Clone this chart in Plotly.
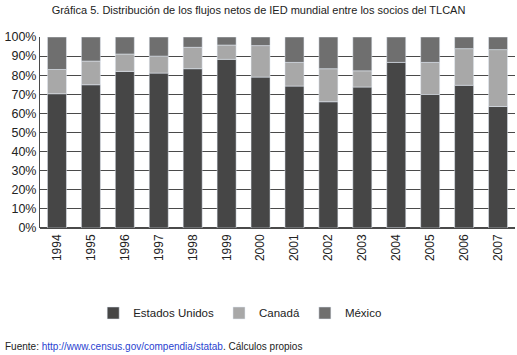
import plotly.graph_objects as go

years = ["1994", "1995", "1996", "1997", "1998", "1999", "2000",
         "2001", "2002", "2003", "2004", "2005", "2006", "2007"]
estados_unidos = [70.3, 75.0, 82.0, 81.1, 83.4, 88.3, 79.0, 74.3, 66.1, 73.8, 86.7, 69.9, 74.7, 63.6]
canada = [12.7, 12.4, 9.1, 8.9, 11.2, 7.5, 16.5, 12.4, 17.3, 8.5, -1.0, 16.8, 19.2, 29.8]
mexico = [17.0, 12.6, 8.9, 10.0, 5.4, 4.2, 4.5, 13.3, 16.6, 17.7, 13.3, 13.3, 6.1, 6.6]
y_ticks = [0, 10, 20, 30, 40, 50, 60, 70, 80, 90, 100]
y_tick_labels = ["0%", "10%", "20%", "30%", "40%", "50%", "60%", "70%", "80%", "90%", "100%"]

FONT = "Liberation Sans, Arial, sans-serif"

fig = go.Figure()
fig.add_trace(go.Bar(x=years, y=estados_unidos, name="Estados Unidos", marker_color="#464646"))
fig.add_trace(go.Bar(x=years, y=canada, name="Canadá", marker_color="#a8a8a8"))
fig.add_trace(go.Bar(x=years, y=mexico, name="México", marker_color="#6f6f6f"))

fig.update_layout(
    width=517, height=355,
    barmode="relative", bargap=0.44,
    plot_bgcolor="white", paper_bgcolor="white",
    margin=dict(l=40, r=2, t=37, b=127),
    font=dict(family=FONT, size=12, color="#222"),
    title=dict(text="Gráfica 5. Distribución de los flujos netos de IED mundial entre los socios del TLCAN",
               x=0.5, xanchor="center", y=0.972, yanchor="middle",
               font=dict(family=FONT, size=11, color="#222")),
    legend=dict(orientation="h", x=0.112, xanchor="left", y=-0.445, yanchor="middle",
                font=dict(family=FONT, size=11.5), itemwidth=30, traceorder="normal"),
    showlegend=True,
)
fig.update_xaxes(type="category", tickangle=-90, tickfont=dict(family=FONT, size=12),
                 showline=False, ticks="", showgrid=False, automargin=False,
                 ticklabelstandoff=3)
fig.update_yaxes(range=[0, 100], tickvals=y_ticks, ticktext=y_tick_labels,
                 showgrid=True, gridcolor="#4a4a4a", gridwidth=1, zeroline=True,
                 zerolinecolor="#4a4a4a", showline=True, linecolor="#4a4a4a",
                 mirror=False, tickfont=dict(family=FONT, size=12.5), ticks="",
                 automargin=False)

fig.add_annotation(
    text="Fuente: <span style='color:#2a3fd0'>http://www.census.gov/compendia/statab</span>. Cálculos propios",
    xref="paper", yref="paper", x=-0.078, y=-0.618, xanchor="left", yanchor="middle",
    showarrow=False, font=dict(family=FONT, size=10, color="#222"), align="left",
)

fig.write_html("out.html", config={"displayModeBar": False},
               post_script="document.body.style.margin='0';")
